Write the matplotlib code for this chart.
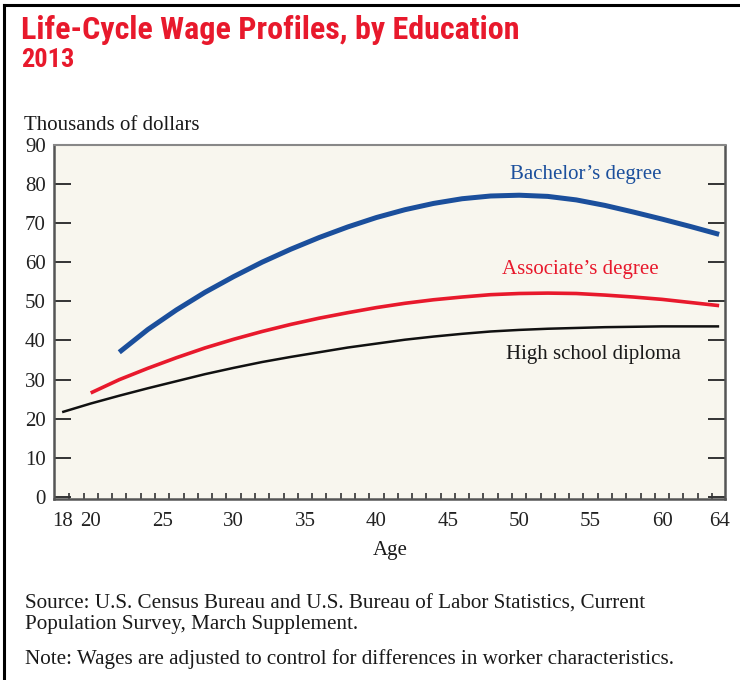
import matplotlib
matplotlib.use("Agg")
import matplotlib.pyplot as plt
from matplotlib.lines import Line2D
import numpy as np

# ages and wages (thousands of dollars)
ages_ba = [22, 24, 26, 28, 30, 32, 34, 36, 38, 40, 42, 44, 46, 48, 50, 52, 54, 56, 58, 60, 62, 64]
wage_ba = [37.0, 42.8, 47.8, 52.3, 56.3, 60.0, 63.3, 66.3, 69.0, 71.4, 73.4, 75.0, 76.2, 76.9, 77.1,
           76.8, 75.9, 74.5, 72.8, 71.0, 69.1, 67.1]

ages_as = [20, 22, 24, 26, 28, 30, 32, 34, 36, 38, 40, 42, 44, 46, 48, 50, 52, 54, 56, 58, 60, 62, 64]
wage_as = [26.6, 30.0, 32.9, 35.6, 38.1, 40.3, 42.3, 44.1, 45.7, 47.1, 48.4, 49.5, 50.4, 51.1, 51.7,
           52.0, 52.1, 52.0, 51.6, 51.1, 50.5, 49.7, 48.9]

ages_hs = [18, 20, 22, 24, 26, 28, 30, 32, 34, 36, 38, 40, 42, 44, 46, 48, 50, 52, 54, 56, 58, 60, 62, 64]
wage_hs = [21.7, 23.9, 25.9, 27.8, 29.6, 31.4, 33.0, 34.5, 35.8, 37.0, 38.2, 39.2, 40.2, 41.0, 41.7,
           42.3, 42.7, 43.0, 43.2, 43.4, 43.5, 43.6, 43.6, 43.6]

x_labels = [18, 20, 25, 30, 35, 40, 45, 50, 55, 60, 64]
y_ticks = [0, 10, 20, 30, 40, 50, 60, 70, 80, 90]

blue = "#1b4f9c"
red = "#e8192c"
serif = ["Liberation Serif", "DejaVu Serif"]
narrow = ["Roboto Condensed", "Liberation Sans Narrow", "DejaVu Sans"]
W, H = 740, 680

fig = plt.figure(figsize=(7.4, 6.8), dpi=100)
ax = fig.add_axes([54 / W, 1 - 499 / H, (725 - 54) / W, (499 - 144.7) / H])
ax.set_facecolor("#f8f6ee")

ax.plot(ages_hs, wage_hs, color="#111111", lw=1.8, solid_capstyle="butt")
ax.plot(ages_as, wage_as, color=red, lw=2.6, solid_capstyle="butt")
ax.plot(ages_ba, wage_ba, color=blue, lw=3.6, solid_capstyle="butt")

ax.set_xlim(17.43, 64.41)
ax.set_ylim(-0.48, 89.4)

for s in ax.spines.values():
    s.set_color("#555555")
    s.set_linewidth(1.8)
ax.spines["top"].set_color("#888888")
ax.spines["top"].set_linewidth(1.5)

ax.set_yticks(y_ticks)
ax.set_yticklabels([str(v) for v in y_ticks], family=serif, fontsize=15, color="#222222")
ax.tick_params(axis="y", direction="in", length=12, width=1.4, color="#333333",
               left=True, right=True, pad=6)
ax.set_xticks(x_labels)
ax.set_xticklabels([str(v) for v in x_labels], family=serif, fontsize=15, color="#222222")
ax.tick_params(axis="x", which="major", length=0, pad=9)
ax.set_xticks(np.arange(18.5, 64, 1.0), minor=True)
ax.tick_params(axis="x", which="minor", direction="in", length=4, width=1.2, color="#333333")


def ftext(x, y, s, **kw):
    fig.text(x / W, 1 - y / H, s, **kw)


ftext(586, 174, "Bachelor\u2019s degree", ha="center", va="center", family=serif,
      fontsize=15, color=blue)
ftext(580, 270, "Associate\u2019s degree", ha="center", va="center", family=serif,
      fontsize=15, color=red)
ftext(593, 355, "High school diploma", ha="center", va="center", family=serif,
      fontsize=15, color="#1a1a1a")

ftext(21, 30, "Life-Cycle Wage Profiles, by Education", ha="left", va="center",
      family=narrow, fontstretch="condensed", fontweight="bold", fontsize=23, color=red)
ftext(21, 60, "2013", ha="left", va="center",
      family=narrow, fontstretch="condensed", fontweight="bold", fontsize=19, color=red)
ftext(24, 125, "Thousands of dollars", ha="left", va="center", family=serif, fontsize=15,
      color="#1a1a1a")
ftext(390, 550, "Age", ha="center", va="center", family=serif, fontsize=15, color="#1a1a1a")
ftext(25, 604, "Source: U.S. Census Bureau and U.S. Bureau of Labor Statistics, Current",
      ha="left", va="center", family=serif, fontsize=15.2, color="#1a1a1a")
ftext(25, 625, "Population Survey, March Supplement.", ha="left", va="center", family=serif,
      fontsize=15.2, color="#1a1a1a")
ftext(25, 659, "Note: Wages are adjusted to control for differences in worker characteristics.",
      ha="left", va="center", family=serif, fontsize=15.2, color="#1a1a1a")

# frame around the figure (left and top only)
fig.add_artist(Line2D([3.5 / W, 3.5 / W], [0, 1 - 4.5 / H], color="black", lw=2.2,
                      transform=fig.transFigure))
fig.add_artist(Line2D([3.5 / W, 1], [1 - 4.5 / H, 1 - 4.5 / H], color="black", lw=2.2,
                      transform=fig.transFigure))

fig.savefig("out.png", dpi=100)
